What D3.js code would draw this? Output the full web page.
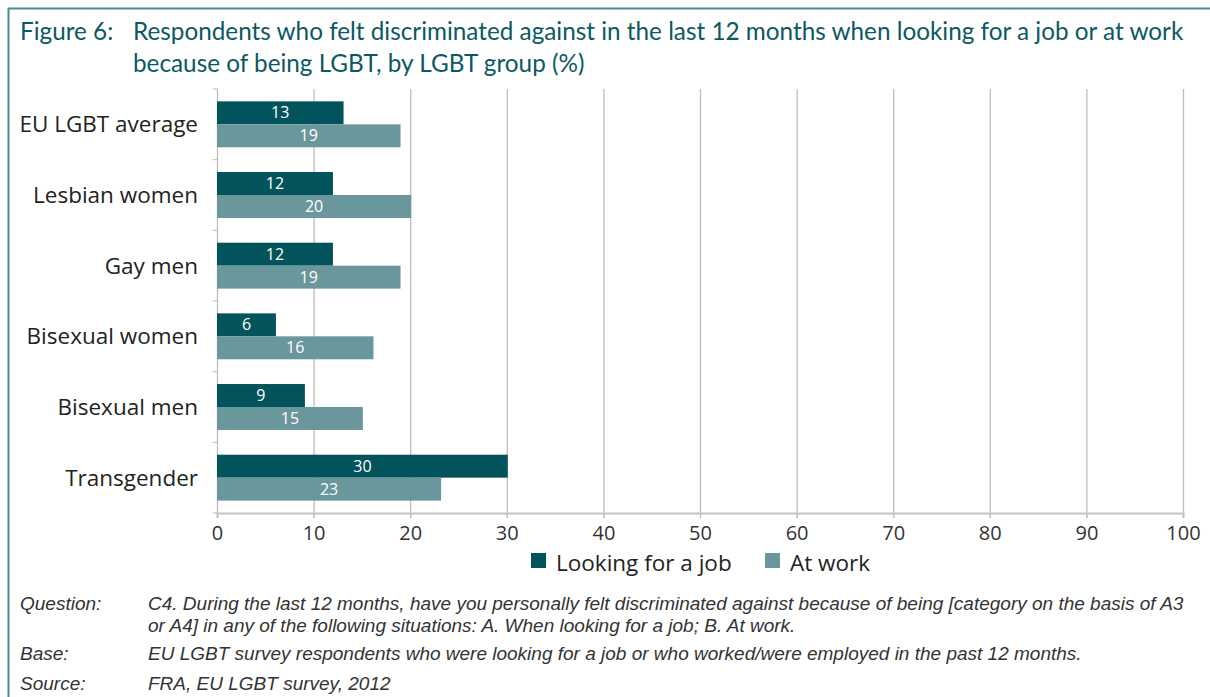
<!DOCTYPE html>
<html><head><meta charset="utf-8">
<script src="https://cdn.jsdelivr.net/npm/d3@7"></script>
<style>
html,body{margin:0;padding:0;background:#fff;}
svg{display:block;}
</style></head>
<body>
<svg id="c" width="1210" height="697"></svg>
<script>
const categories = ["EU LGBT average","Lesbian women","Gay men","Bisexual women","Bisexual men","Transgender"];
const lookingForJob = [13.1, 12, 12, 6.1, 9.1, 30.1];
const atWork = [19, 20.1, 19, 16.2, 15.1, 23.2];
const labelsJob = [13, 12, 12, 6, 9, 30];
const labelsWork = [19, 20, 19, 16, 15, 23];
const seriesNames = ["Looking for a job","At work"];
const xTicks = [0,10,20,30,40,50,60,70,80,90,100];
const titleLines = ["Respondents who felt discriminated against in the last 12 months when looking for a job or at work","because of being LGBT, by LGBT group (%)"];
const notes = [
  ["Question:", ["C4. During the last 12 months, have you personally felt discriminated against because of being [category on the basis of A3","or A4] in any of the following situations: A. When looking for a job; B. At work."]],
  ["Base:", ["EU LGBT survey respondents who were looking for a job or who worked/were employed in the past 12 months."]],
  ["Source:", ["FRA, EU LGBT survey, 2012"]]
];

const colDark = "#02535b", colLight = "#6a979c", titleCol = "#0b5962", frameCol = "#4f8a8e";
const svg = d3.select("#c");
const font = "'Open Sans', sans-serif";

// frame
svg.append("line").attr("x1",8).attr("x2",1210).attr("y1",8.5).attr("y2",8.5).attr("stroke",frameCol).attr("stroke-width",2);
svg.append("line").attr("x1",8.5).attr("x2",8.5).attr("y1",8).attr("y2",697).attr("stroke",frameCol).attr("stroke-width",2);

// title
const tfont = "Lato, 'Open Sans', sans-serif";
svg.append("text").attr("x",20).attr("y",40).attr("fill",titleCol).attr("font-family",tfont).attr("font-size",24.3).text("Figure 6:");
const tt = svg.append("text").attr("fill",titleCol).attr("font-family",tfont).attr("font-size",24.3);
titleLines.forEach((t,i)=>tt.append("tspan").attr("x",133).attr("y",40+i*32).text(t));

// scales
const x = d3.scaleLinear().domain([0,100]).range([217,1183]);
const y = d3.scaleBand().domain(categories).range([89,513]).paddingInner(0.35).paddingOuter(0.175);
const barH = y.bandwidth()/2;

// grid
svg.append("g").selectAll("line").data(xTicks.slice(1)).join("line")
  .attr("x1",d=>x(d)+0.5).attr("x2",d=>x(d)+0.5).attr("y1",89).attr("y2",518)
  .attr("stroke","#bdbdbd").attr("stroke-width",1.3);

// x axis
const xa = svg.append("g").attr("transform","translate(0,513)")
  .call(d3.axisBottom(x).tickValues(xTicks).tickSize(5).tickPadding(8));
xa.select(".domain").attr("stroke","#c4c4c4").attr("stroke-width",2);
xa.selectAll(".tick line").attr("stroke","#bdbdbd");
xa.selectAll("text").attr("font-family",font).attr("font-size",20).attr("fill","#333");

// y axis
const ya = svg.append("g").attr("transform","translate(217.5,0)");
ya.append("line").attr("y1",89).attr("y2",513).attr("stroke","#bdbdbd").attr("stroke-width",1.3);
const bounds = d3.range(categories.length+1).map(i=>89+i*(424/categories.length));
ya.selectAll("line.t").data(bounds).join("line").attr("class","t").attr("x1",-5).attr("x2",0).attr("y1",d=>d).attr("y2",d=>d).attr("stroke","#bdbdbd");
svg.append("g").selectAll("text").data(categories).join("text")
  .attr("x",198).attr("y",d=>y(d)+barH).attr("dy","0.35em").attr("text-anchor","end")
  .attr("font-family",font).attr("font-size",22.5).attr("fill","#222").text(d=>d);

// bars
const g = svg.append("g");
categories.forEach((c,i)=>{
  g.append("rect").attr("x",x(0)).attr("y",y(c)).attr("width",x(lookingForJob[i])-x(0)).attr("height",barH).attr("fill",colDark);
  g.append("rect").attr("x",x(0)).attr("y",y(c)+barH).attr("width",x(atWork[i])-x(0)).attr("height",barH).attr("fill",colLight);
  g.append("text").attr("x",(x(0)+x(lookingForJob[i]))/2).attr("y",y(c)+barH/2).attr("dy","0.35em").attr("text-anchor","middle")
    .attr("font-family",font).attr("font-size",16).attr("fill","#fff").text(labelsJob[i]);
  g.append("text").attr("x",(x(0)+x(atWork[i]))/2).attr("y",y(c)+barH*1.5).attr("dy","0.35em").attr("text-anchor","middle")
    .attr("font-family",font).attr("font-size",16).attr("fill","#fff").text(labelsWork[i]);
});

// legend
const lg = svg.append("g");
const legX = [531, 765];
[colDark,colLight].forEach((col,i)=>{
  lg.append("rect").attr("x",legX[i]).attr("y",553).attr("width",15).attr("height",15).attr("fill",col);
  lg.append("text").attr("x",legX[i]+25).attr("y",571).attr("font-family",font).attr("font-size",22.5).attr("fill","#222").text(seriesNames[i]);
});

// notes
const nfont = "'Liberation Sans', Arial, sans-serif";
let ny = [610, 660, 690];
notes.forEach((n,i)=>{
  svg.append("text").attr("x",20).attr("y",ny[i]).attr("font-family",nfont).attr("font-style","italic").attr("font-size",19).attr("fill","#333").text(n[0]);
  const t = svg.append("text").attr("font-family",nfont).attr("font-style","italic").attr("font-size",19).attr("fill","#333");
  n[1].forEach((l,j)=>t.append("tspan").attr("x",148).attr("y",ny[i]+j*22).text(l));
});
</script>
</body></html>
